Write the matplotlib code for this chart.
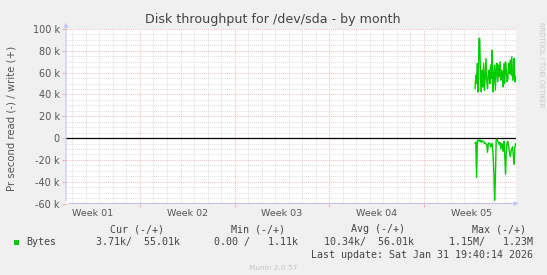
import numpy as np
import matplotlib.pyplot as plt
from matplotlib.patches import Rectangle

# write (+) and read (-) throughput in kB/s, only the last few days hold data
write_k = [45.4, 57.7, 50.0, 68.4, 42.3, 91.4, 91.4, 56.1, 42.3, 62.3,
           46.9, 68.4, 43.9, 56.1, 73.0, 51.5, 45.4, 57.7, 62.3, 50.0,
           66.9, 54.6, 80.7, 42.3, 56.1, 66.9, 43.9, 62.3, 68.4, 51.5,
           66.9, 56.1, 69.9, 53.1, 62.3, 59.2, 46.9, 68.4, 50.0, 69.9,
           62.3, 51.5, 54.6, 68.4, 59.2, 71.5, 57.7, 74.5, 53.1, 57.7,
           73.0, 51.5, 56.1]
read_k = [-4.6, -4.0, -36.0, -2.0, -2.5, -1.5, -3.0, -2.0, -4.0, -2.5,
          -3.0, -3.0, -5.0, -4.5, -5.5, -6.0, -13.0, -5.0, -4.5, -5.0,
          -8.0, -7.0, -5.0, -15.0, -30.0, -57.0, -38.0, -2.0, -1.0, -3.0,
          -4.0, -6.0, -4.0, -10.0, -5.0, -7.0, -12.0, -3.0, -16.0, -33.0,
          -12.0, -4.0, -3.0, -8.0, -13.0, -17.0, -12.0, -10.0, -8.0, -17.0,
          -24.0, -8.0, -5.0]
t_first, t_last = 31.78, 34.79      # days counted from the start of week 01
x_min, x_max = 1.53, 34.81

week_starts = [7, 14, 21, 28]
week_labels = ['Week 01', 'Week 02', 'Week 03', 'Week 04', 'Week 05']
y_ticks = [-60, -40, -20, 0, 20, 40, 60, 80, 100]
y_labels = ['-60 k', '-40 k', '-20 k', '0', '20 k', '40 k', '60 k', '80 k', '100 k']

legend_head = ['Cur (-/+)', 'Min (-/+)', 'Avg (-/+)', 'Max (-/+)']
legend_vals = ['3.71k/  55.01k', '0.00 /   1.11k', '10.34k/  56.01k', '1.15M/   1.23M']
last_update = 'Last update: Sat Jan 31 19:40:14 2026'

W, H = 547, 275
GREEN = '#00cc00'
TXT = '#555555'
AXIS = '#c4c4f4'


def px(x, y):
    return x / W, 1 - y / H


fig = plt.figure(figsize=(W / 100, H / 100), dpi=100, facecolor='#f0f0f0')
ax = fig.add_axes([66 / W, 71.5 / H, 450 / W, 174.5 / H])
ax.set_facecolor('white')
ax.set_xlim(x_min, x_max)
ax.set_ylim(-60, 100)

# grid, drawn by hand so minor and major look like rrdtool
dot = (0, (1, 1.5))
for d in range(2, 35):
    if d % 7:
        ax.axvline(d, color='#cfcfcf', lw=0.6, ls=dot, zorder=0)
for d in week_starts:
    ax.axvline(d, color='#f0a0a0', lw=0.6, ls=dot, zorder=0)
for v in range(-55, 100, 5):
    if v % 20:
        ax.axhline(v, color='#cfcfcf', lw=0.6, ls=dot, zorder=0)
for v in y_ticks[1:]:
    if v != 0:
        ax.axhline(v, color='#f0a0a0', lw=0.6, ls=dot, zorder=0)

ax.axhline(0, color='black', lw=0.9, zorder=2)

t = np.linspace(t_first, t_last, len(write_k))
ax.plot(t, write_k, color=GREEN, lw=1.0, zorder=3)
ax.plot(t, read_k, color=GREEN, lw=1.0, zorder=3)

ax.set_yticks(y_ticks, y_labels)
ax.set_xticks(week_starts)
ax.set_xticklabels([])
ax.tick_params(axis='y', length=3, width=0.6, color='#f0a0a0', pad=1.5,
               labelsize=7, labelcolor=TXT)
ax.tick_params(axis='x', length=2.5, width=0.6, color='#f0a0a0', direction='out')
for s in ax.spines.values():
    s.set_visible(False)

centers = [w - 3.5 for w in week_starts] + [week_starts[-1] + 3.5]
for c, lab in zip(centers, week_labels):
    ax.text(c, -0.055, lab, transform=ax.get_xaxis_transform(), ha='center',
            va='center', fontsize=6.8, color=TXT)

# axes with arrows
ax.annotate('', xy=(0, 1.052), xytext=(0, 0), xycoords='axes fraction',
            arrowprops=dict(arrowstyle='-|>', color=AXIS, lw=0.8, mutation_scale=6))
ax.annotate('', xy=(1.012, 0), xytext=(0, 0), xycoords='axes fraction',
            arrowprops=dict(arrowstyle='-|>', color=AXIS, lw=0.8, mutation_scale=6))

fig.text(*px(273, 19), 'Disk throughput for /dev/sda - by month', ha='center',
         va='center', fontsize=9.1, color='#444444')
fig.text(*px(12, 118), 'Pr second read (-) / write (+)', rotation=90, ha='center',
         va='center', fontsize=7.3, color=TXT)
fig.text(*px(541, 22), 'RRDTOOL / TOBI OETIKER', rotation=270, ha='center',
         va='top', fontsize=4.8, color='#c8c8c8')

mono = dict(family='DejaVu Sans Mono', fontsize=7.2, color='#444444', va='center')
for x, s in zip([164, 285, 405, 526], legend_head):
    fig.text(*px(x, 229.5), s, ha='right', **mono)
fig.patches.append(Rectangle(px(14, 245), 5 / W, 5 / H, transform=fig.transFigure,
                             facecolor=GREEN, edgecolor='none'))
fig.text(*px(26, 242.3), 'Bytes', ha='left', **mono)
for x, s in zip([180, 298, 414.5, 533], legend_vals):
    fig.text(*px(x, 242.3), s, ha='right', **mono)
fig.text(*px(533, 254.5), last_update, ha='right', **mono)
fig.text(*px(273, 267.5), 'Munin 2.0.57', ha='center', va='center',
         fontsize=5.3, color='#c4c4c4')

fig.savefig('out.png', dpi=100, facecolor=fig.get_facecolor())
